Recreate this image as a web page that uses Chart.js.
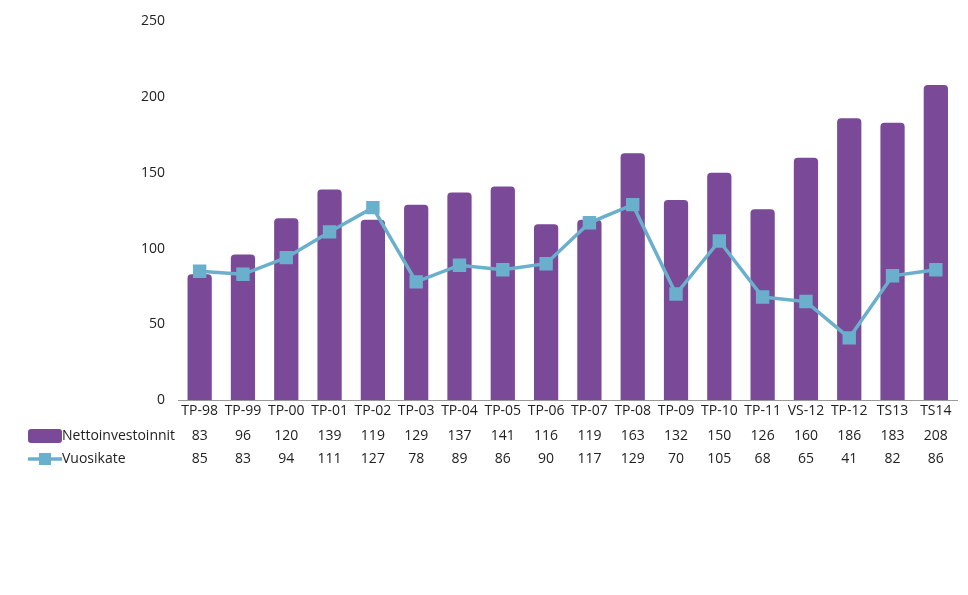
<!DOCTYPE html>
<html>
<head>
<meta charset="utf-8">
<script src="https://cdn.jsdelivr.net/npm/chart.js@4/dist/chart.umd.min.js"></script>
<style>
html,body{margin:0;padding:0;background:#fff;}
#wrap{width:968px;height:595px;position:relative;}
</style>
</head>
<body>
<div id="wrap"><canvas id="c" width="968" height="595"></canvas></div>
<script>
const categories = ['TP-98','TP-99','TP-00','TP-01','TP-02','TP-03','TP-04','TP-05','TP-06','TP-07','TP-08','TP-09','TP-10','TP-11','VS-12','TP-12','TS13','TS14'];
const nettoinvestoinnit = [83,96,120,139,119,129,137,141,116,119,163,132,150,126,160,186,183,208];
const vuosikate = [85,83,94,111,127,78,89,86,90,117,129,70,105,68,65,41,82,86];
const yTicks = [0,50,100,150,200,250];
const seriesNames = ['Nettoinvestoinnit','Vuosikate'];

const BAR = '#7a4a98';
const LINE = '#6aafcb';
const FONT = '"Open Sans", "Noto Sans", sans-serif';
const TXT = '#222';

const tablePlugin = {
  id: 'dataTable',
  afterDraw(chart) {
    const ctx = chart.ctx;
    const xs = chart.scales.x;
    ctx.save();
    ctx.font = '14px ' + FONT;
    ctx.fillStyle = TXT;
    ctx.textAlign = 'center';
    ctx.textBaseline = 'middle';
    const rows = [nettoinvestoinnit, vuosikate];
    const ys = [436, 459];
    rows.forEach((row, r) => {
      row.forEach((v, i) => {
        ctx.fillText(String(v), xs.getPixelForValue(i), ys[r]);
      });
    });
    // legend keys
    ctx.fillStyle = BAR;
    ctx.beginPath();
    if (ctx.roundRect) ctx.roundRect(28, 429, 34, 14, 3); else ctx.rect(28, 429, 34, 14);
    ctx.fill();
    ctx.strokeStyle = LINE;
    ctx.lineWidth = 3.5;
    ctx.beginPath();
    ctx.moveTo(28, 459); ctx.lineTo(62, 459);
    ctx.stroke();
    ctx.fillStyle = LINE;
    ctx.fillRect(39, 453, 12, 12);
    ctx.fillStyle = TXT;
    ctx.textAlign = 'left';
    ctx.fillText(seriesNames[0], 62, 436);
    ctx.fillText(seriesNames[1], 62, 459);
    ctx.restore();
  }
};

new Chart(document.getElementById('c'), {
  data: {
    labels: categories,
    datasets: [
      {
        type: 'line',
        label: seriesNames[1],
        data: vuosikate,
        borderColor: LINE,
        backgroundColor: LINE,
        borderWidth: 3.5,
        pointStyle: 'rect',
        pointRadius: 7,
        pointHoverRadius: 7,
        tension: 0,
        order: 0
      },
      {
        type: 'bar',
        label: seriesNames[0],
        data: nettoinvestoinnit,
        backgroundColor: BAR,
        borderRadius: {topLeft: 4, topRight: 4},
        borderSkipped: 'bottom',
        barPercentage: 0.56,
        categoryPercentage: 1.0,
        order: 1
      }
    ]
  },
  options: {
    responsive: false,
    animation: false,
    layout: {padding: {left: 0, top: 18, right: 8, bottom: 0}},
    plugins: {legend: {display: false}, tooltip: {enabled: false}},
    scales: {
      x: {
        grid: {display: false, drawTicks: false},
        border: {display: true, color: '#999', width: 1},
        ticks: {color: TXT, font: {family: FONT, size: 14}, padding: 3, maxRotation: 0, autoSkip: false},
        afterFit(s) { s.height = 195; }
      },
      y: {
        min: 0, max: 250,
        afterBuildTicks(s) { s.ticks = yTicks.map(v => ({value: v})); },
        grid: {display: false, drawTicks: false},
        border: {display: false},
        ticks: {color: TXT, font: {family: FONT, size: 14}, padding: 13},
        afterFit(s) { s.width = 178; }
      }
    }
  },
  plugins: [tablePlugin]
});
</script>
</body>
</html>
